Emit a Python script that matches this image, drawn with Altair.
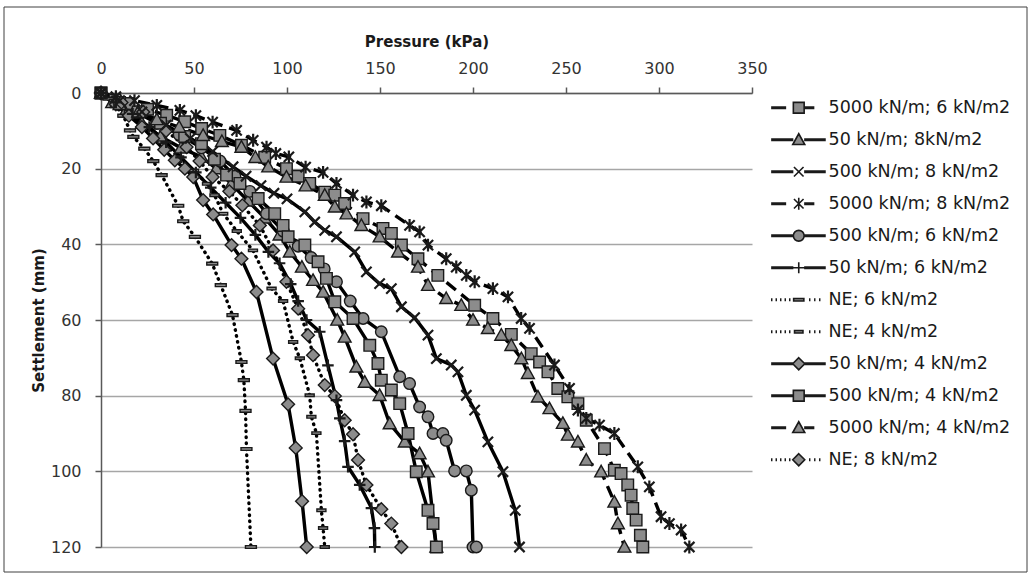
import altair as alt
import pandas as pd

# ---------------- data ----------------
series_names = [
    "5000 kN/m; 6 kN/m2", "50 kN/m; 8kN/m2", "500 kN/m; 8 kN/m2",
    "5000 kN/m; 8 kN/m2", "500 kN/m; 6 kN/m2", "50 kN/m; 6 kN/m2",
    "NE; 6 kN/m2", "NE; 4 kN/m2", "50 kN/m; 4 kN/m2",
    "500 kN/m; 4 kN/m2", "5000 kN/m; 4 kN/m2", "NE; 8 kN/m2",
]

p_5000_6 = [0, 7.5, 14.7, 25, 35.3, 45, 54.1, 63.9, 75.5, 88, 99.7, 106, 112.2, 120.3, 125.7,
            131, 140.9, 151.6, 156.1, 161.5, 170.4, 181.1, 200.9, 210.7, 220.6, 231.3, 235.8,
            240.3, 245.6, 251, 256.4, 260.9, 270.7, 276, 279.6, 283.2, 285, 285.9, 287.7, 290, 291.3]
s_5000_6 = [0, 1.9, 2.8, 4.3, 5.9, 7.6, 9.4, 11.2, 13.8, 17, 20, 22, 23.9, 26.2, 27,
            29.2, 33.2, 35.8, 37.1, 40.2, 43.8, 48.2, 56.1, 59.6, 63.8, 68.9, 71.1,
            73.7, 78.1, 80.3, 82.1, 86.5, 94, 99.7, 100.6, 103.6, 106.3, 109.8, 112.9, 116.9, 120]

p_50_8 = [0, 6, 13, 22, 32, 43, 54, 62, 70, 79, 88, 96, 101.5, 108, 114, 119.4, 127, 131,
          137.3, 141.8, 149.8, 155.2, 163.3, 171.3, 175.8, 180.3]
s_50_8 = [0, 2.5, 5, 8, 11.5, 14.5, 16.9, 20, 24, 28.5, 33, 37.5, 42, 46, 49.5, 52.6, 60, 64.5,
          72.4, 76.4, 79.9, 87.4, 92.2, 95.3, 100.1, 120]

p_500_8 = [0, 10, 22, 35, 48, 60, 71, 78, 86, 93, 100, 109.6, 114.9, 120.3, 126.6, 136.4, 142.7,
           149.8, 156.1, 161.5, 168.6, 175.8, 180.3, 188.3, 191.9, 196.4, 200.9, 208, 216.1, 222.7, 225]
s_500_8 = [0, 2, 5, 8.5, 12, 15.5, 19.5, 22, 24.5, 26.5, 28, 31.4, 34.1, 36.3, 38, 42, 47.3,
           50.4, 51.7, 56.5, 59.4, 64, 70.2, 71.9, 73.7, 79.9, 83.8, 92.2, 100.1, 110.3, 120]

p_5000_8 = [0, 8, 18, 30, 42.4, 51, 60, 72.9, 81.8, 89, 94, 101, 110, 119.4, 126.6, 135.5, 142.7,
            150.7, 165.9, 171.3, 175.8, 185.6, 191, 196.4, 200.9, 210.7, 218.8, 225.9, 230.4, 243.8,
            251.9, 256.4, 260.9, 268, 276, 288.6, 294.8, 301.1, 305.6, 311.9, 316.3]
s_5000_8 = [0, 1, 2, 3.3, 4.6, 6, 7.7, 9.9, 12.5, 14.3, 16, 16.9, 19.6, 21, 23.9, 27, 28.8,
            29.8, 35, 36.7, 40.2, 43.8, 46, 48.2, 49.9, 51.7, 53.9, 59.6, 62.2, 71.9,
            78.1, 83.8, 86, 87.8, 90, 98.8, 104.1, 112, 113.8, 115.5, 120]

p_500_6 = [0, 9, 19, 30, 42, 54, 64, 72, 80, 89, 98, 106, 113, 120, 126.6, 134, 140.9, 150.7,
           160.6, 165.9, 171.3, 175.8, 178.5, 183.8, 185.6, 190.1, 196.4, 199.1, 200, 201.8]
s_500_6 = [0, 2.5, 5, 8, 11, 14.5, 18, 22, 26, 31.9, 36.5, 40.5, 43.5, 46.5, 49.9, 55, 59.6, 63.1,
           75, 76.8, 83, 85.6, 90, 90, 91.8, 99.9, 99.9, 105, 120, 120]

p_50_6 = [0, 8, 17, 26, 35, 43, 51, 59, 67, 75, 83, 90, 96, 102, 106, 110.5, 117.6, 122, 126.6,
          128.4, 131, 132.8, 139.1, 145.4, 147, 147.2]
s_50_6 = [0, 2.5, 5.5, 9, 13, 17, 21, 25, 29, 33, 37.5, 42, 45, 50.5, 55, 60, 63.1, 72, 81.2,
          86, 92, 98.8, 103.6, 109.7, 115, 120]

p_ne_6 = [0, 4, 8, 12, 15.6, 17.4, 23.3, 28.1, 32.6, 41.5, 44.2, 50.5, 59.8, 64.4, 70.7, 75.5,
          76.8, 77.7, 78.2, 80.6]
s_ne_6 = [0, 1.5, 3.5, 6, 9.9, 11.6, 14.7, 18, 21.7, 29.8, 33.9, 38, 45.1, 50.8, 58.7, 71.1,
          75.9, 84, 94.1, 120]

p_ne_4 = [0, 7, 15, 24, 33, 42, 50, 57, 61, 65.7, 73, 81.7, 91.7, 97.9, 103.3, 106.9, 112.2,
          113.1, 115.8, 118.5, 119.4, 120.3]
s_ne_4 = [0, 2, 5, 9, 13, 17, 20.5, 24, 27, 31.9, 36.5, 41.6, 51.7, 55, 65.8, 70.1, 79.9,
          85.6, 89.9, 110.3, 115, 120]

p_50_4 = [0, 8, 15, 22, 28, 34, 39.7, 45.1, 49.6, 54.9, 60.3, 70.2, 75.5, 83.6, 92.5, 100.6,
          104.7, 108.1, 110.6]
s_50_4 = [0, 3, 6, 9, 12, 15, 17.8, 20, 22.2, 28.3, 32.1, 40.2, 43.8, 52.6, 70.2, 82.3,
          93.8, 107.9, 120]

p_500_4 = [0, 10, 20, 32, 45, 54, 61, 67.5, 74.7, 84.5, 93.4, 97.9, 100.6, 109.6, 116.7, 121.2,
           125.7, 135.5, 144.5, 148.9, 150.7, 156.1, 160.6, 165.1, 169.5, 175.8, 178.5, 180.3]
s_500_4 = [0, 2.5, 5, 8, 11.5, 13.4, 17.5, 21.7, 23.9, 27.9, 31.9, 35, 38, 40.2, 44.6, 49,
           55.2, 59.6, 66.7, 71.5, 75.9, 78.5, 82.1, 90, 100.1, 110.3, 113.8, 120]

p_5000_4 = [0, 10, 20, 30, 42, 54.9, 65, 75.5, 83, 89.9, 99.7, 110, 120.3, 125.7, 132, 140, 149.8,
            159.7, 170.4, 175.8, 185.6, 193.7, 200, 208, 215.2, 220.6, 226, 229.5, 234.9, 241.1,
            248.3, 251, 256.4, 260.9, 268.9, 276, 277.9, 281.4]
s_5000_4 = [0, 3, 5, 7, 9, 11.2, 12.8, 14.3, 17, 19.5, 22.2, 24.5, 27, 30.1, 31.9, 35, 38,
            42, 46, 50.8, 54.3, 56.1, 60, 62.2, 64, 66.7, 70.2, 74.1, 80.3, 83.4,
            87.3, 90.4, 92.2, 97, 100.1, 108.1, 113.8, 120]

p_ne_8 = [0, 11, 22.7, 35, 46, 53, 60, 69, 76, 85.4, 92.5, 99.7, 106, 111.3, 114, 120.3, 125.7,
          131, 135.5, 138.2, 142.7, 150.7, 156.1, 161.5]
s_ne_8 = [0, 2.5, 5, 10, 14.3, 18, 22.2, 26, 29.7, 35, 41.6, 49.9, 57, 64, 69.3, 77.2, 80.1,
          86.5, 90.2, 97, 103.6, 110, 113.8, 120]

pressures = [p_5000_6, p_50_8, p_500_8, p_5000_8, p_500_6, p_50_6,
             p_ne_6, p_ne_4, p_50_4, p_500_4, p_5000_4, p_ne_8]
settlements = [s_5000_6, s_50_8, s_500_8, s_5000_8, s_500_6, s_50_6,
               s_ne_6, s_ne_4, s_50_4, s_500_4, s_5000_4, s_ne_8]

rows = []
for name, ps, ss in zip(series_names, pressures, settlements):
    for i, (p, s) in enumerate(zip(ps, ss)):
        rows.append({"series": name, "legend": name, "P": p, "S": s, "idx": i})
df = pd.DataFrame(rows)

solid = [n for n in series_names if n.startswith("50 ") or n.startswith("500 ")]
dashed = [n for n in series_names if n.startswith("5000")]
dotted = [n for n in series_names if n.startswith("NE")]

# ---------------- marker shapes (unit = 6 px at size 144) ----------------
SQ = "M-0.9,-0.9H0.9V0.9H-0.9Z"
TRI = "M0,-1L1,0.8L-1,0.8Z"
CIR = "M-0.9,0A0.9,0.9,0,1,0,0.9,0A0.9,0.9,0,1,0,-0.9,0Z"
DIA = "M0,-1L1,0L0,1L-1,0Z"
XX = "M-0.8,-0.8L0.8,0.8M-0.8,0.8L0.8,-0.8"
AST = "M-0.8,-0.8L0.8,0.8M-0.8,0.8L0.8,-0.8M0,-1V1"
PLUS = "M-0.9,0H0.9M0,-0.9V0.9"
DASH6 = "M-0.85,-0.22H0.85V0.22H-0.85Z"
DASH4 = "M-0.7,-0.2H0.7V0.2H-0.7Z"

marker_of = {
    "5000 kN/m; 6 kN/m2": SQ, "50 kN/m; 8kN/m2": TRI, "500 kN/m; 8 kN/m2": XX,
    "5000 kN/m; 8 kN/m2": AST, "500 kN/m; 6 kN/m2": CIR, "50 kN/m; 6 kN/m2": PLUS,
    "NE; 6 kN/m2": DASH6, "NE; 4 kN/m2": DASH4, "50 kN/m; 4 kN/m2": DIA,
    "500 kN/m; 4 kN/m2": SQ, "5000 kN/m; 4 kN/m2": TRI, "NE; 8 kN/m2": DIA,
}
marker_range = [marker_of[n] for n in series_names]


def seg(a, b):
    return f"M{a},-0.12H{b}M{a},0.12H{b}"


def legend_path(name):
    m = marker_of[name]
    if name in dashed:
        line = seg(-4.6, -2.1) + seg(0.9, 2.6)
    elif name in dotted:
        line = "".join(seg(round(x - 0.12, 2), round(x + 0.12, 2))
                       for x in [-4.5, -3.75, -3.0, -2.25, -1.5, 1.83, 2.67, 3.5])
    else:
        line = seg(-4.6, -0.9) + seg(0.9, 4.5)
    return line + m


legend_range = [legend_path(n) for n in series_names]

FONT = "DejaVu Sans"
MSIZE = 165

x_enc = alt.X("P:Q", scale=alt.Scale(domain=[0, 350], nice=False),
              axis=alt.Axis(orient="top", values=list(range(0, 351, 50)), title="Pressure (kPa)",
                            titleFont=FONT, titleFontSize=15, titleFontWeight="bold",
                            titleColor="#1a1a1a", titlePadding=11, labelFlush=False,
                            labelFont=FONT, labelFontSize=16, labelColor="#333333",
                            labelPadding=11, tickSize=6, tickColor="#595959", tickWidth=1.5,
                            domainColor="#595959", domainWidth=1.5, grid=False))
y_enc = alt.Y("S:Q", scale=alt.Scale(domain=[0, 120], reverse=True, nice=False),
              axis=alt.Axis(values=list(range(0, 121, 20)), title="Settlement (mm)",
                            titleFont=FONT, titleFontSize=15, titleFontWeight="bold",
                            titleColor="#1a1a1a", titlePadding=4, labelFlush=False,
                            labelFont=FONT, labelFontSize=16, labelColor="#333333",
                            labelPadding=14, tickSize=6, tickColor="#595959", tickWidth=1.5,
                            domainColor="#595959", domainWidth=1.5,
                            grid=True, gridColor="#a6a6a6", gridWidth=1.5))

base = alt.Chart(df)

lines_solid = base.transform_filter(alt.FieldOneOfPredicate(field="series", oneOf=solid)).mark_line(
    color="black", strokeWidth=3.4).encode(x=x_enc, y=y_enc, detail="series:N", order="idx:Q")
lines_dashed = base.transform_filter(alt.FieldOneOfPredicate(field="series", oneOf=dashed)).mark_line(
    color="black", strokeWidth=3.4, strokeDash=[12, 7]).encode(x=x_enc, y=y_enc, detail="series:N", order="idx:Q")
lines_dotted = base.transform_filter(alt.FieldOneOfPredicate(field="series", oneOf=dotted)).mark_line(
    color="black", strokeWidth=3.4, strokeDash=[0.5, 5.5], strokeCap="round").encode(
    x=x_enc, y=y_enc, detail="series:N", order="idx:Q")

open_markers = ["500 kN/m; 8 kN/m2", "5000 kN/m; 8 kN/m2", "50 kN/m; 6 kN/m2"]
filled_markers = [n for n in series_names if n not in open_markers]

shape_scale = alt.Scale(domain=series_names, range=marker_range)

pts_filled = base.transform_filter(alt.FieldOneOfPredicate(field="series", oneOf=filled_markers)).mark_point(
    filled=True, fill="#8c8c8c", stroke="#1a1a1a", strokeWidth=1.4, size=MSIZE, opacity=1).encode(
    x=x_enc, y=y_enc, shape=alt.Shape("series:N", scale=shape_scale, legend=None))
pts_open = base.transform_filter(alt.FieldOneOfPredicate(field="series", oneOf=open_markers)).mark_point(
    filled=False, stroke="#1a1a1a", strokeWidth=2.2, size=MSIZE, opacity=1).encode(
    x=x_enc, y=y_enc, shape=alt.Shape("series:N", scale=shape_scale, legend=None))

legend_layer = base.transform_filter(alt.datum.idx == 0).mark_point(
    filled=False, fill="#8c8c8c", stroke="#1a1a1a", strokeWidth=1.6, size=144, opacity=0).encode(
    x=x_enc, y=y_enc,
    shape=alt.Shape("legend:N", scale=alt.Scale(domain=series_names, range=legend_range),
                    legend=alt.Legend(title=None, orient="none", legendX=689, legendY=6,
                                      labelFont=FONT, labelFontSize=17.5, labelColor="#1a1a1a",
                                      labelOffset=21, rowPadding=13, padding=0, labelLimit=400,
                                      symbolSize=144, symbolStrokeWidth=1.6, symbolOpacity=1)))

frame = alt.Chart(pd.DataFrame({"a": [0]})).mark_rect(
    fillOpacity=0, stroke="#404040", strokeWidth=1).encode(
    x=alt.value(-97), x2=alt.value(926), y=alt.value(-86), y2=alt.value(479))

chart = alt.layer(frame, lines_solid, lines_dashed, lines_dotted, pts_filled, pts_open, legend_layer).resolve_scale(
    shape="independent").properties(
    width=651, height=454,
    autosize=alt.AutoSizeParams(type="none"),
    padding={"left": 101, "top": 93, "right": 280, "bottom": 30},
    background="white",
).configure_view(stroke=None)

chart.save("out.html", embed_options={"renderer": "svg", "actions": False})
